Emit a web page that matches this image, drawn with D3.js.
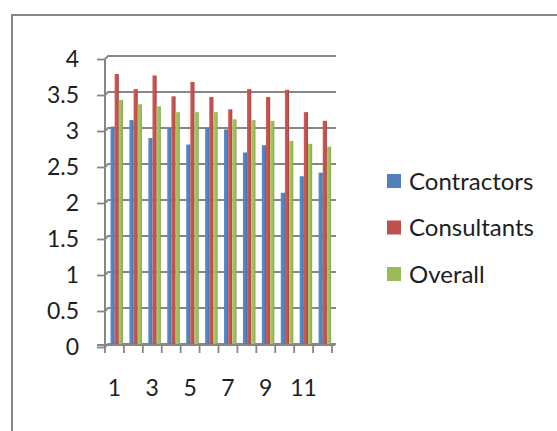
<!DOCTYPE html>
<html>
<head>
<meta charset="utf-8">
<script src="https://cdn.jsdelivr.net/npm/d3@7"></script>
<style>
  html, body { margin: 0; padding: 0; background: #fff; }
  svg { display: block; font-family: Lato, "Open Sans", sans-serif; }
</style>
</head>
<body>
<svg id="chart" width="557" height="431"></svg>
<script>
// Survey scores per item, by respondent group
const categories = [1, 2, 3, 4, 5, 6, 7, 8, 9, 10, 11, 12];
const contractors = [3.02, 3.11, 2.86, 3.00, 2.77, 3.00, 2.98, 2.66, 2.76, 2.10, 2.33, 2.38];
const consultants = [3.75, 3.54, 3.73, 3.44, 3.64, 3.43, 3.26, 3.54, 3.43, 3.53, 3.22, 3.10];
const overall     = [3.39, 3.33, 3.30, 3.22, 3.22, 3.22, 3.12, 3.11, 3.10, 2.82, 2.78, 2.74];
const seriesNames = ["Contractors", "Consultants", "Overall"];
const seriesColors = ["#4F81BD", "#C0504D", "#9BBB59"];
const yTicks = [0, 0.5, 1, 1.5, 2, 2.5, 3, 3.5, 4];
const xTickLabels = [1, 3, 5, 7, 9, 11];

const seriesValues = [contractors, consultants, overall];

const svg = d3.select("#chart");
const grey = "#868686";
const textColor = "#1e1e1e";

// Outer frame (only its top and left edges fall inside the view)
svg.append("path")
  .attr("d", "M12,440 L12,15 L570,15")
  .attr("fill", "none")
  .attr("stroke", grey)
  .attr("stroke-width", 2);

// Scales
const axisX = 105, wallX = 108, depth = 3;
const x0 = d3.scaleBand().domain(categories).range([axisX, 332]).padding(0);
const x1 = d3.scaleBand().domain(d3.range(seriesNames.length)).range([5.5, 18]).padding(0);
const y = d3.scaleLinear().domain([0, 4]).range([344, 56]);

// Back wall gridlines, joined to the axis ticks by a short depth edge
const grid = svg.append("g");
yTicks.forEach(v => {
  grid.append("path")
    .attr("d", `M${axisX},${y(v) + depth} L${wallX},${y(v)} L336,${y(v)}`)
    .attr("fill", "none")
    .attr("stroke", grey)
    .attr("stroke-width", 1.8);
});

// Bar shading: lit front face, darker right edge
const defs = svg.append("defs");
seriesColors.forEach((c, i) => {
  const g = defs.append("linearGradient").attr("id", "bar" + i)
    .attr("x1", 0).attr("x2", 1).attr("y1", 0).attr("y2", 0);
  g.append("stop").attr("offset", "0%").attr("stop-color", d3.color(c).brighter(0.25));
  g.append("stop").attr("offset", "70%").attr("stop-color", c);
  g.append("stop").attr("offset", "100%").attr("stop-color", d3.color(c).darker(0.5));
});

// Bars
const groups = svg.append("g").selectAll("g")
  .data(categories)
  .join("g")
  .attr("transform", d => `translate(${x0(d)},0)`);

groups.selectAll("rect")
  .data((d, ci) => seriesValues.map((vals, si) => ({ si, v: vals[ci] })))
  .join("rect")
  .attr("x", d => x1(d.si))
  .attr("width", x1.bandwidth())
  .attr("y", d => y(d.v))
  .attr("height", d => y(0) - y(d.v) + 1)
  .attr("fill", d => `url(#bar${d.si})`);

// Y axis
const yAxis = d3.axisLeft(y)
  .tickValues(yTicks)
  .tickFormat(d3.format(""))
  .tickSize(8)
  .tickPadding(18);
const gy = svg.append("g")
  .attr("transform", `translate(${axisX},${depth})`)
  .call(yAxis);
gy.select(".domain").attr("stroke", grey).attr("stroke-width", 2)
  .attr("d", `M0,${y(4)}V${y(0)}`);
gy.selectAll(".tick line").attr("stroke", grey).attr("stroke-width", 1.8);
gy.selectAll(".tick text")
  .attr("fill", textColor)
  .style("font-size", "23px")
  .style("font-family", "Lato, 'Open Sans', sans-serif");

// X axis: floor edge, tick marks on category boundaries, labels at centers
const floorY = y(0) + 1;
svg.append("line")
  .attr("x1", 97).attr("x2", 335)
  .attr("y1", floorY).attr("y2", floorY)
  .attr("stroke", grey).attr("stroke-width", 2);

const bounds = categories.map(c => x0(c)).concat([x0.range()[1]]);
svg.append("g").selectAll("line")
  .data(bounds)
  .join("line")
  .attr("x1", d => d).attr("x2", d => d)
  .attr("y1", floorY).attr("y2", floorY + 8)
  .attr("stroke", grey).attr("stroke-width", 1.8);

svg.append("g").selectAll("text")
  .data(xTickLabels)
  .join("text")
  .attr("x", d => x0(d) + x0.bandwidth() / 2)
  .attr("y", 396)
  .attr("text-anchor", "middle")
  .attr("fill", textColor)
  .style("font-size", "23px")
  .text(d => d);

// Legend
const legend = svg.append("g").selectAll("g")
  .data(seriesNames)
  .join("g")
  .attr("transform", (d, i) => `translate(387,${181 + i * 46.5})`);
legend.append("rect")
  .attr("x", 0).attr("y", -7)
  .attr("width", 14).attr("height", 14)
  .attr("fill", (d, i) => seriesColors[i]);
legend.append("text")
  .attr("x", 22).attr("y", 8.5)
  .attr("fill", textColor)
  .style("font-size", "24px")
  .text(d => d);
</script>
</body>
</html>
